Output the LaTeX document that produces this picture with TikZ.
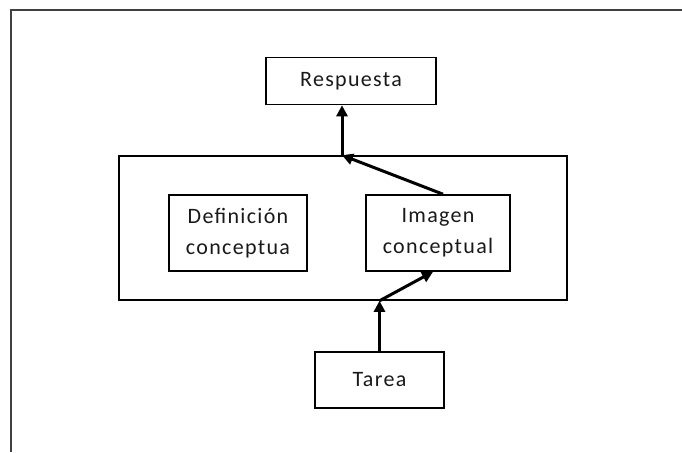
\documentclass[tikz,border=0pt]{standalone}
\usepackage{fontspec}
\setmainfont[LetterSpace=6]{Carlito}
\usetikzlibrary{arrows.meta,calc}
\begin{document}
\begin{tikzpicture}[x=1pt,y=-1pt,
  box/.style={draw=black,line width=1.6pt,rectangle,inner sep=0pt,align=center,
    font=\fontsize{22}{31}\selectfont,text=black!90},
  arr/.style={line width=3pt,-{Triangle[length=11pt,width=11pt]}}]
\useasboundingbox (0,0) rectangle (682,452);
% page frame (top and left edges)
\draw[line width=2pt,black!75] (682,10) -- (11,10) -- (11,452);
% nodes
\node[box,minimum width=170pt,minimum height=47pt] (resp) at (351,81) {Respuesta};
\node[box,minimum width=448pt,minimum height=144pt] (big) at (343,228) {};
\node[box,minimum width=138pt,minimum height=76pt] (def) at (238,233) {Definición\\conceptua};
\node[box,minimum width=144pt,minimum height=76pt] (img) at (438,233) {Imagen\\conceptual};
\node[box,minimum width=129pt,minimum height=56pt] (tarea) at (379.5,380) {Tarea};
% junction points on the outer box
\coordinate (jb) at (big.south -| tarea.north);
\coordinate (jt) at ($(big.north)+(-1,0)$);
% connectors
\draw[arr] (tarea.north) -- (jb);
\draw[arr] (jb) -- ([xshift=-5pt]img.south);
\draw[arr] ([xshift=5pt]img.north) -- (jt);
\draw[arr] (jt) -- (jt |- resp.south);
\end{tikzpicture}
\end{document}
